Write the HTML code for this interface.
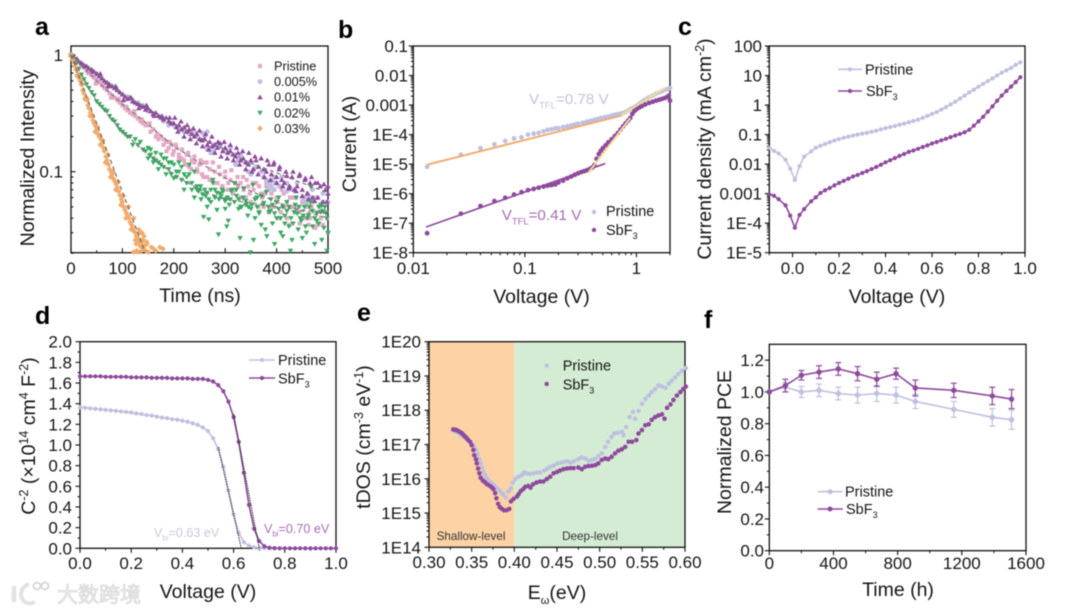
<!DOCTYPE html>
<html lang="en">
<head>
<meta charset="utf-8">
<title>Perovskite characterisation panels</title>
<style>
html,body{margin:0;padding:0;background:#fff;}
svg{display:block;filter:blur(0.45px);}
text{font-family:"Liberation Sans","Noto Sans CJK SC",sans-serif;fill:#151515;}
.tick{font-size:17px;}
.title{font-size:19.5px;}
.leg{font-size:14.5px;}
.letter{font-size:25px;font-weight:bold;fill:#000;}
</style>
</head>
<body>
<svg id="fig" xmlns="http://www.w3.org/2000/svg" width="1080" height="613" viewBox="0 0 1080 613">
  <rect x="0" y="0" width="1080" height="613" fill="#fff"/>
  <g id="pa">
    <text class="letter" x="35" y="35">a</text>
    <text class="title" x="200" y="302" text-anchor="middle">Time (ns)</text>
    <text class="title" transform="translate(34,158) rotate(-90)" text-anchor="middle">Normalized Intensity</text>
  </g>
  <g id="pb">
    <text class="letter" x="338" y="38">b</text>
    <text class="title" x="541.5" y="303" text-anchor="middle">Voltage (V)</text>
    <text class="title" transform="translate(356,144) rotate(-90)" text-anchor="middle">Current (A)</text>
  </g>
  <g id="pc">
    <text class="letter" x="678" y="35">c</text>
    <text class="title" x="897" y="303" text-anchor="middle">Voltage (V)</text>
    <text class="title" transform="translate(711,149) rotate(-90)" text-anchor="middle">Current density (mA cm<tspan font-size="12.5" dy="-7">-2</tspan><tspan dy="7">)</tspan></text>
  </g>
  <g id="pd">
    <text class="letter" x="35" y="324">d</text>
    <text class="title" x="208" y="598" text-anchor="middle">Voltage (V)</text>
    <text class="title" transform="translate(35,436) rotate(-90)" text-anchor="middle">C<tspan font-size="12.5" dy="-7">-2</tspan><tspan dy="7"> (×10</tspan><tspan font-size="12.5" dy="-7">14</tspan><tspan dy="7"> cm</tspan><tspan font-size="12.5" dy="-7">4</tspan><tspan dy="7"> F</tspan><tspan font-size="12.5" dy="-7">-2</tspan><tspan dy="7">)</tspan></text>
  </g>
  <g id="pe">
    <text class="letter" x="357" y="321">e</text>
    <text class="title" x="557" y="599" text-anchor="middle">E<tspan font-size="11" dy="5">ω</tspan><tspan dy="-5">(eV)</tspan></text>
    <text class="title" transform="translate(370,437) rotate(-90)" text-anchor="middle">tDOS (cm<tspan font-size="12.5" dy="-7">-3</tspan><tspan dy="7"> eV</tspan><tspan font-size="12.5" dy="-7">-1</tspan><tspan dy="7">)</tspan></text>
  </g>
  <g id="pf">
    <text class="letter" x="704" y="328">f</text>
    <text class="title" x="898" y="596" text-anchor="middle">Time (h)</text>
    <text class="title" transform="translate(731,442) rotate(-90)" text-anchor="middle">Normalized PCE</text>
  </g>
  <g id="watermark">
    <path d="M14 586 L14 602" fill="none" stroke="#e2e2e2" stroke-width="4.5"/>
    <path d="M29 584 C21 587 19 595 23 600 C26 604 31 604 35 602" fill="none" stroke="#e2e2e2" stroke-width="4"/>
    <circle cx="37" cy="586" r="3.5" fill="none" stroke="#d8d8d8" stroke-width="2"/>
    <circle cx="45" cy="586" r="3.5" fill="none" stroke="#d8d8d8" stroke-width="2"/>
    <text x="57" y="602" style="font-size:21px;fill:#f2f2f2;stroke:#d6d6d6;stroke-width:0.8px;font-family:'Liberation Sans','Noto Sans CJK SC',sans-serif;">大数跨境</text>
  </g>
</svg>
<script>
/* ---------- palette ---------- */
const PRISTINE_COLOR = '#bfc0df';
const SBF3_COLOR = '#8e4a9c';

/* ---------- panel a data ---------- */
const aXTickValues = [0,100,200,300,400,500];
const aXMinorValues = [50,150,250,350,450];
const aYTickValues = [1,0.1];
const aYTickLabels = ['1','0.1'];
const aYMinorValues = [0.9,0.8,0.7,0.6,0.5,0.4,0.3,0.2,0.09,0.08,0.07,0.06,0.05,0.04,0.03,0.02];
const aLegendLabels = ['Pristine','0.005%','0.01%','0.02%','0.03%'];

const aPristineTime = [0,5,10,15,20,25,30,35,40,45,50,55,60,65,70,75,80,85,90,95,100,105,110,115,120,125,130,135,140,145,150,155,160,165,170,175,180,185,190,195,200,205,210,215,220,225,230,235,240,245,250,255,260,265,270,275,280,285,290,295,300,305,310,315,320,325,330,335,340,345,350,355,360,365,370,375,380,385,390,395,400,405,410,415,420,425,430,435,440,445,450,455,460,465,470,475,480,485,490,495,500,
  33,48,63,78,93,108,123,138,153,168,180,186,192,198,204,210,216,222,228,234,240,246,252,258,264,270,276,282,288,294,300,306,312,318,324,330,336,342,348,354,360,366,372,378,384,390,396,402,408,414,420,426,432,438,444,450,456,462,468,474,480,486,492,498];
const aPristineIntensity = [1,.95,.91,.87,.82,.78,.74,.7,.67,.64,.61,.58,.55,.52,.5,.47,.45,.43,.41,.39,.37,.35,.335,.32,.31,.3,.285,.27,.26,.25,.25,.22,.23,.2,.19,.2,.17,.18,.16,.17,.15,.16,.14,.13,.125,.14,.11,.125,.12,.105,.115,.095,.12,.09,.105,.085,.1,.08,.095,.075,.09,.07,.085,.065,.08,.075,.06,.09,.06,.075,.055,.07,.08,.05,.065,.05,.075,.045,.065,.05,.06,.04,.07,.05,.055,.035,.06,.045,.05,.036,.055,.04,.05,.04,.055,.033,.045,.05,.035,.045,.03,
  .7,.57,.55,.43,.42,.36,.33,.28,.26,.21,.19,.15,.18,.14,.17,.13,.155,.115,.145,.105,.135,.1,.125,.09,.12,.085,.12,.08,.11,.075,.1,.08,.103,.07,.09,.08,.07,.085,.065,.08,.06,.075,.06,.065,.07,.05,.07,.055,.045,.065,.04,.06,.05,.06,.045,.04,.06,.035,.05,.06,.035,.04,.055,.04];

const a005Time = [0,10,20,30,40,50,60,70,80,90,100,110,120,130,140,150,160,170,180,190,200,210,220,230,240,250,255,260,265,270,280,290,300,310,320,330,340,350,360,370,375,380,385,390,395,400,405,410,420,430,440,450,455,460,470,480,490,500,
  380,383,386,389,392,395,398,455,458,461,464,467,345,350,355,265,272,278,320,325,420,425,490];
const a005Intensity = [1,.92,.85,.79,.74,.69,.63,.58,.54,.5,.46,.44,.41,.39,.37,.33,.31,.3,.27,.25,.25,.23,.22,.21,.22,.19,.215,.2,.22,.16,.17,.165,.15,.16,.14,.14,.12,.12,.11,.1,.09,.085,.08,.075,.09,.08,.075,.09,.08,.07,.08,.06,.055,.065,.07,.06,.065,.055,
  .08,.07,.078,.072,.084,.07,.08,.06,.054,.064,.056,.06,.1,.095,.105,.155,.145,.15,.115,.125,.068,.074,.055];

const a01Time = [0,5,10,15,20,25,30,35,40,45,50,55,60,65,70,75,80,85,90,95,100,105,110,115,120,125,130,135,140,145,150,155,160,165,170,175,180,185,190,195,200,205,210,215,220,225,230,235,240,245,250,255,260,265,270,275,280,285,290,295,300,305,310,315,320,325,330,335,340,345,350,355,360,365,370,375,380,385,390,395,400,405,410,415,420,425,430,435,440,445,450,455,460,465,470,475,480,485,490,495,500,
  12,27,42,57,72,87,102,117,132,147,162,177,192,202,208,214,220,226,232,238,244,250,256,262,268,274,280,286,292,298,304,310,316,322,328,334,340,346,352,358,364,370,376,382,388,394,400,406,412,418,424,432,438,444,450,456,462,468,474,480,486,492,498,500];
const a01Intensity = [1,.96,.92,.88,.85,.82,.8,.77,.75,.72,.69,.66,.63,.6,.58,.56,.54,.52,.5,.48,.46,.44,.42,.43,.4,.39,.38,.37,.36,.34,.35,.33,.31,.32,.3,.29,.28,.29,.27,.26,.26,.24,.25,.23,.24,.22,.23,.21,.2,.21,.19,.185,.19,.17,.18,.165,.17,.16,.175,.15,.16,.145,.15,.14,.135,.145,.125,.13,.12,.115,.125,.105,.125,.11,.13,.105,.1,.115,.095,.12,.09,.105,.085,.08,.092,.075,.09,.07,.075,.095,.07,.085,.065,.08,.06,.08,.06,.075,.055,.07,.065,
  .92,.8,.72,.69,.54,.54,.41,.43,.35,.37,.3,.3,.29,.29,.22,.27,.2,.25,.19,.235,.175,.225,.165,.21,.155,.2,.145,.18,.135,.18,.13,.17,.125,.16,.115,.15,.105,.145,.1,.135,.095,.13,.09,.125,.085,.115,.08,.11,.075,.1,.072,.1,.068,.092,.062,.088,.058,.09,.056,.08,.052,.078,.055,.075];

const a02Time = [0,5,10,15,20,25,30,35,40,45,50,55,60,65,70,75,80,85,90,95,100,105,110,115,120,125,130,135,140,145,150,155,160,165,170,175,180,185,190,195,200,205,210,215,220,225,230,235,240,245,250,253,258,262,265,268,272,276,280,284,287,290,294,298,300,303,306,310,313,318,322,326,329,332,336,340,344,349,352,355,358,362,366,370,374,378,381,385,389,392,396,400,404,408,412,416,420,424,427,430,434,438,442,446,450,454,458,462,466,470,474,478,482,486,488,492,496,498,500,
  150,155,160,165,170,175,180,185,190,195,200,205,210,215,220,225,230,235,240,245,248,252,256,260,264,268,272,276,280,284,288,292,296,300,304,308,312,318,322,326,330,335,340,345,350,354,358,362,366,370,375,380,384,388,392,396,400,404,408,412,416,420,424,428,432,436,440,444,448,452,456,460,464,467,470,474,478,482,486,490,494,498];
const a02Intensity = [1,.92,.84,.76,.68,.62,.56,.52,.48,.45,.4,.38,.36,.34,.33,.3,.28,.27,.25,.23,.22,.21,.2,.2,.17,.19,.17,.18,.155,.15,.16,.14,.13,.125,.12,.14,.11,.13,.12,.095,.115,.1,.12,.085,.07,.09,.115,.08,.1,.075,.07,.058,.041,.062,.05,.039,.055,.08,.06,.047,.029,.065,.07,.058,.048,.034,.038,.058,.07,.055,.062,.048,.027,.05,.072,.056,.042,.0203,.052,.026,.04,.06,.045,.035,.052,.032,.028,.045,.058,.036,.024,.04,.06,.03,.028,.042,.055,.034,.021,.026,.045,.06,.032,.04,.027,.05,.03,.042,.055,.034,.024,.038,.05,.045,.026,.033,.044,.021,.03,
  .13,.155,.12,.145,.105,.115,.13,.095,.105,.12,.088,.09,.1,.11,.095,.08,.095,.07,.06,.07,.068,.075,.064,.07,.066,.058,.07,.085,.07,.066,.058,.062,.068,.056,.06,.052,.068,.08,.07,.058,.05,.06,.052,.05,.048,.077,.058,.05,.044,.062,.054,.067,.05,.046,.052,.044,.055,.048,.04,.05,.036,.046,.05,.04,.036,.052,.044,.05,.038,.042,.034,.04,.05,.074,.046,.04,.044,.036,.052,.046,.05,.04];

const a03Time = [0,3,5,8,10,13,15,18,20,23,25,28,30,33,35,38,40,43,45,48,50,53,55,58,60,63,65,68,70,73,75,78,80,83,85,88,90,93,95,98,100,103,105,108,110,113,115,118,120,122,125,125,127,130,132,135,135,137,140,140,143,145,148,150,156,160,165,173,179,122,130,128,
  12,17,22,27,32,37,42,47,52,57,62,67,72,77,82,87,92,97,102,107,112,117,122,127,132,137,142,147,134,138];
const a03Intensity = [1,.92,.88,.8,.75,.69,.65,.6,.56,.5,.47,.43,.41,.37,.35,.32,.3,.275,.26,.245,.23,.21,.2,.19,.175,.16,.15,.135,.125,.115,.105,.1,.095,.087,.083,.078,.073,.068,.063,.058,.055,.05,.047,.044,.042,.04,.037,.035,.033,.031,.03,.026,.028,.027,.025,.026,.023,.024,.0225,.026,.023,.021,.024,.0205,.0225,.022,.021,.0225,.0218,.0205,.0205,.021,
  .66,.63,.56,.42,.42,.3,.3,.22,.24,.17,.185,.12,.14,.09,.1,.07,.082,.052,.062,.04,.05,.032,.04,.024,.032,.021,.028,.025,.03,.03];

const aFitTime = [0,50,100,150,200,250,300,350,400,450,500];
const aFitPristine = [1,.6,.38,.255,.165,.12,.088,.068,.055,.046,.04];
const aFit01 = [1,.69,.46,.345,.26,.195,.155,.118,.098,.08,.066];
const aFit02 = [1,.4,.22,.14,.095,.07,.058,.054,.05,.047,.044];
const aFit03Time = [0,144];
const aFit03 = [1,.0205];

/* ---------- panel b data ---------- */
const bXTickValues = [0.01,0.1,1];
const bXTickLabels = ['0.01','0.1','1'];
const bYTickValues = [-1,-2,-3,-4,-5,-6,-7,-8];
const bYTickLabels = ['0.1','0.01','0.001','1E-4','1E-5','1E-6','1E-7','1E-8'];
const bPristineVoltage = [.0133,.0267,.04,.0533,.0667,.08,.0933,.1067,.12,.133,.147,.16,.173,.187,.2,.22,.24,.26,.28,.3,.33,.36,.39,.42,.45,.48,.52,.56,.6,.64,.68,.72,.76,.8,.85,.9,.95,1,1.06,1.12,1.18,1.24,1.3,1.4,1.5,1.6,1.7,1.8,1.9,2];
const bPristineLogCurrent = [-5.09,-4.68,-4.46,-4.33,-4.22,-4.13,-4.09,-4,-3.97,-3.94,-3.89,-3.84,-3.82,-3.79,-3.78,-3.75,-3.72,-3.69,-3.66,-3.63,-3.6,-3.56,-3.53,-3.5,-3.47,-3.44,-3.41,-3.39,-3.36,-3.33,-3.31,-3.29,-3.27,-3.24,-3.18,-3.12,-3.08,-3.03,-2.96,-2.89,-2.83,-2.79,-2.74,-2.68,-2.62,-2.57,-2.53,-2.48,-2.46,-2.43];
const bSbf3Voltage = [.0133,.0267,.04,.0533,.0667,.08,.0933,.1067,.12,.133,.147,.16,.173,.187,.2,.22,.24,.26,.28,.3,.32,.34,.36,.38,.4,.42,.44,.46,.48,.5,.53,.56,.6,.64,.68,.72,.76,.8,.84,.88,.92,.96,1,1.06,1.12,1.2,1.3,1.4,1.5,1.6,1.7,1.8,1.9,1.95,2];
const bSbf3LogCurrent = [-7.34,-6.68,-6.42,-6.25,-6.14,-6.03,-5.95,-5.88,-5.84,-5.8,-5.76,-5.73,-5.71,-5.69,-5.62,-5.56,-5.48,-5.42,-5.36,-5.31,-5.27,-5.24,-5.21,-5.17,-5.12,-5.03,-4.82,-4.66,-4.55,-4.46,-4.36,-4.26,-4.16,-4.05,-3.95,-3.83,-3.72,-3.62,-3.53,-3.44,-3.3,-3.2,-3.14,-3.08,-3.04,-2.98,-2.93,-2.89,-2.85,-2.82,-2.79,-2.76,-2.72,-2.68,-2.85];
const bFitOrangeV = [.0133,.75];
const bFitOrangeLogI = [-5.02,-3.35];
const bFitYellowUpperV = [.73,1.85];
const bFitYellowUpperLogI = [-3.35,-2.39];
const bFitPurpleV = [.013,.525];
const bFitPurpleLogI = [-7.13,-4.98];
const bFitYellowLowerV = [.37,.88];
const bFitYellowLowerLogI = [-5.3,-3.44];

/* ---------- panel c data ---------- */
const cXTickValues = [0,.2,.4,.6,.8,1];
const cXTickLabels = ['0.0','0.2','0.4','0.6','0.8','1.0'];
const cXMinorValues = [-.1,.1,.3,.5,.7,.9];
const cYTickValues = [2,1,0,-1,-2,-3,-4,-5];
const cYTickLabels = ['100','10','1','0.1','0.01','0.001','1E-4','1E-5'];
const cVoltage = [-.1,-.08,-.06,-.03,-.01,.01,.03,.05,.08,.1,.12,.14,.16,.18,.2,.22,.24,.26,.28,.3,.32,.34,.36,.38,.4,.42,.44,.46,.48,.5,.52,.54,.56,.58,.6,.62,.64,.66,.68,.7,.72,.74,.76,.78,.8,.82,.84,.86,.88,.9,.92,.94,.96,.98];
const cPristine = [.035,.028,.023,.014,.007,.0029,.0085,.018,.027,.036,.042,.048,.055,.063,.07,.078,.085,.092,.1,.108,.115,.125,.135,.15,.165,.18,.195,.215,.235,.26,.29,.32,.37,.43,.5,.58,.7,.85,1.05,1.3,1.65,2.1,2.7,3.3,4.2,5.2,6.5,8,10,12.5,15,18,23,28];
const cSbf3 = [.00095,.00085,.00065,.0004,.00018,.00007,.00019,.0003,.00055,.00075,.00105,.0013,.00155,.0019,.0023,.0027,.0032,.0038,.0043,.005,.0058,.0068,.008,.0095,.0115,.0135,.016,.019,.022,.026,.029,.033,.038,.043,.05,.056,.064,.072,.082,.093,.105,.12,.145,.2,.28,.4,.6,.9,1.4,2.1,3,4.2,6,8.8];

/* ---------- panel d data ---------- */
const dXTickValues = [0,.2,.4,.6,.8,1];
const dXTickLabels = ['0.0','0.2','0.4','0.6','0.8','1.0'];
const dXMinorValues = [.1,.3,.5,.7,.9];
const dYTickValues = [0,.2,.4,.6,.8,1,1.2,1.4,1.6,1.8,2];
const dYTickLabels = ['0.0','0.2','0.4','0.6','0.8','1.0','1.2','1.4','1.6','1.8','2.0'];
const dYMinorValues = [.1,.3,.5,.7,.9,1.1,1.3,1.5,1.7,1.9];
const dVoltage = [0,.02,.04,.06,.08,.1,.12,.14,.16,.18,.2,.22,.24,.26,.28,.3,.32,.34,.36,.38,.4,.42,.44,.46,.48,.5,.52,.54,.56,.58,.6,.62,.64,.66,.68,.7,.72,.74,.76,.78,.8,.82,.84,.86,.88,.9,.92,.94,.96,.98,1];
const dPristine = [1.365,1.36,1.355,1.35,1.345,1.34,1.335,1.33,1.325,1.32,1.315,1.305,1.3,1.29,1.285,1.275,1.265,1.26,1.25,1.245,1.235,1.225,1.21,1.195,1.17,1.135,1.065,.96,.79,.56,.33,.15,.06,.025,.01,.005,.002,0,0,0,0,0,0,0,0,0,0,0,0,0,0];
const dSbf3 = [1.665,1.665,1.665,1.665,1.665,1.66,1.66,1.66,1.66,1.66,1.655,1.655,1.655,1.655,1.65,1.65,1.65,1.65,1.645,1.645,1.645,1.645,1.64,1.64,1.64,1.63,1.615,1.58,1.52,1.42,1.27,1.03,.73,.42,.19,.07,.02,.005,.002,0,0,0,0,0,0,0,0,0,0,0,0];
const dFitPristineV = [.54,.63];
const dFitPristineC = [.98,0];
const dFitSbf3V = [.6,.7];
const dFitSbf3C = [1.3,0];

/* ---------- panel e data ---------- */
const eXTickValues = [.3,.35,.4,.45,.5,.55,.6];
const eXTickLabels = ['0.30','0.35','0.40','0.45','0.50','0.55','0.60'];
const eXMinorValues = [.325,.375,.425,.475,.525,.575];
const eYTickValues = [20,19,18,17,16,15,14];
const eYTickLabels = ['1E20','1E19','1E18','1E17','1E16','1E15','1E14'];
const eRegionBoundary = [.3,.4,.6];
const ePristineEnergy = [.3278,.3305,.3332,.3364,.3395,.3422,.345,.348,.351,.353,.355,.357,.359,.3606,.362,.3637,.3657,.3676,.37,.3723,.3747,.3774,.38,.3825,.385,.387,.39,.393,.396,.398,.401,.405,.409,.4115,.4145,.4185,.4225,.4265,.43,.435,.439,.4425,.4465,.4505,.4545,.4585,.462,.466,.47,.475,.479,.483,.487,.491,.4945,.4985,.5025,.5065,.51,.514,.517,.521,.526,.528,.531,.535,.539,.5415,.5455,.5495,.5535,.5575,.561,.565,.569,.573,.577,.581,.5845,.5885,.5925,.5965,.601];
const ePristineLogDos = [17.42,17.39,17.35,17.3,17.24,17.19,17.13,17.08,17.01,16.93,16.84,16.71,16.57,16.45,16.32,16.21,16.11,16.01,15.95,15.89,15.84,15.79,15.72,15.66,15.6,15.54,15.46,15.63,15.72,15.89,15.99,16.06,16.11,16.18,16.16,16.14,16.16,16.18,16.18,16.24,16.3,16.35,16.39,16.45,16.47,16.49,16.51,16.47,16.51,16.57,16.62,16.59,16.53,16.55,16.58,16.66,16.74,16.93,17.08,17.22,17.32,17.34,17.37,17.27,17.51,17.8,17.95,17.75,17.98,18.19,18.33,18.43,18.53,18.62,18.72,18.69,18.65,18.77,18.86,18.96,19.06,19.15,19.23];
const eSbf3Energy = [.3285,.3305,.3325,.3345,.3365,.3385,.34,.342,.344,.346,.348,.35,.352,.353,.355,.356,.3575,.359,.3605,.363,.3655,.368,.371,.3735,.3755,.3775,.379,.381,.383,.3855,.388,.391,.394,.396,.399,.403,.405,.4075,.4105,.413,.4165,.419,.422,.426,.43,.434,.438,.442,.446,.45,.4535,.4575,.4615,.4655,.4695,.475,.479,.483,.487,.491,.495,.4985,.5025,.5065,.51,.514,.518,.522,.526,.53,.534,.538,.543,.5455,.5495,.5535,.5575,.561,.565,.569,.573,.576,.579,.583,.5865,.5905,.5945,.598,.601];
const eSbf3LogDos = [17.44,17.43,17.42,17.39,17.36,17.33,17.29,17.24,17.19,17.13,17.08,16.98,16.84,16.69,16.57,16.45,16.3,16.16,16.03,15.95,15.9,15.84,15.8,15.75,15.7,15.58,15.43,15.27,15.17,15.12,15.08,15.08,15.12,15.34,15.41,15.48,15.55,15.64,15.7,15.77,15.79,15.74,15.84,15.89,15.92,15.92,15.99,16.06,16.16,16.2,16.24,16.28,16.3,16.31,16.31,16.33,16.28,16.35,16.37,16.38,16.4,16.45,16.55,16.59,16.57,16.64,16.74,16.82,16.86,16.93,17.08,17.08,17.13,17.32,17.42,17.56,17.59,17.72,17.8,17.85,17.88,17.75,18.07,18.17,18.3,18.43,18.53,18.62,18.69];

/* ---------- panel f data ---------- */
const fXTickValues = [0,400,800,1200,1600];
const fXMinorValues = [200,600,1000,1400];
const fYTickValues = [0,.2,.4,.6,.8,1,1.2];
const fYTickLabels = ['0.0','0.2','0.4','0.6','0.8','1.0','1.2'];
const fYMinorValues = [.1,.3,.5,.7,.9,1.1];
const fHours = [0,100,200,310,430,550,670,790,910,1150,1390,1510];
const fPristine = [1,1.03,1.0,1.01,.99,.98,.99,.98,.94,.89,.84,.825];
const fPristineError = [0,.03,.035,.04,.04,.05,.05,.05,.045,.05,.055,.06];
const fSbf3 = [1,1.04,1.105,1.125,1.145,1.115,1.08,1.115,1.025,1.01,.975,.955];
const fSbf3Error = [0,.04,.03,.04,.04,.045,.045,.035,.05,.045,.055,.06];

/* ---------- helpers ---------- */
const NS = 'http://www.w3.org/2000/svg';
function make(tag, parent, name, props) {
  const el = document.createElementNS(NS, tag);
  for (const k in props) el.setAttribute(k, props[k]);
  
  
  parent.appendChild(el);
  return el;
}
function linScale(d0, d1, r0, r1) { return v => r0 + (v - d0) / (d1 - d0) * (r1 - r0); }
function logScale(d0, d1, r0, r1) { const f = linScale(Math.log10(d0), Math.log10(d1), r0, r1); return v => f(Math.log10(v)); }

function frame(g, name, box) {
  make('rect', g, name + '-frame', {x: box.l, y: box.t, width: box.r - box.l, height: box.b - box.t, fill: 'none', stroke: '#111', 'stroke-width': 1.3});
}
function xAxis(g, name, box, sx, values, labels, minor, labelY, inward) {
  const dir = inward ? -1 : 1;
  values.forEach((v, i) => {
    const x = sx(v);
    make('line', g, name + '-x-tick', {x1: x, x2: x, y1: box.b, y2: box.b + dir * 4.5, stroke: '#111', 'stroke-width': 1.1});
    const t = make('text', g, name + '-x-tick-label', {x: x, y: labelY, 'text-anchor': 'middle', class: 'tick'});
    t.textContent = labels[i];
  });
  minor.forEach(v => {
    const x = sx(v);
    make('line', g, name + '-x-minor-tick', {x1: x, x2: x, y1: box.b, y2: box.b + dir * 2.5, stroke: '#111', 'stroke-width': 1});
  });
}
function yAxis(g, name, box, sy, values, labels, minor, labelX, inward) {
  const dir = inward ? 1 : -1;
  values.forEach((v, i) => {
    const y = sy(v);
    make('line', g, name + '-y-tick', {x1: box.l, x2: box.l + dir * 4.5, y1: y, y2: y, stroke: '#111', 'stroke-width': 1.1});
    const t = make('text', g, name + '-y-tick-label', {x: labelX, y: y + 6, 'text-anchor': 'end', class: 'tick'});
    t.textContent = labels[i];
  });
  minor.forEach(v => {
    const y = sy(v);
    make('line', g, name + '-y-minor-tick', {x1: box.l, x2: box.l + dir * 2.5, y1: y, y2: y, stroke: '#111', 'stroke-width': 1});
  });
}
function logMinors(exponents) {
  const out = [];
  const mult = [2,3,4,5,6,7,8,9];
  exponents.forEach(e => mult.forEach(m => out.push(e + Math.log10(m))));
  return out;
}
function marker(g, name, shape, x, y, size, color) {
  const s = size;
  if (shape === 'circle') return make('circle', g, name, {cx: x, cy: y, r: s, fill: color});
  if (shape === 'square') return make('rect', g, name, {x: x - s, y: y - s, width: 2 * s, height: 2 * s, fill: color});
  let pts;
  if (shape === 'up') pts = [[x, y - s * 1.15], [x + s * 1.15, y + s * .85], [x - s * 1.15, y + s * .85]];
  if (shape === 'down') pts = [[x, y + s * 1.15], [x + s * 1.15, y - s * .85], [x - s * 1.15, y - s * .85]];
  if (shape === 'diamond') pts = [[x, y - s * 1.3], [x + s * 1.3, y], [x, y + s * 1.3], [x - s * 1.3, y]];
  return make('polygon', g, name, {points: pts.map(p => p.join(',')).join(' '), fill: color});
}
function poly(g, name, xs, ys, color, width, dash) {
  const pts = xs.map((x, i) => x.toFixed(2) + ',' + ys[i].toFixed(2)).join(' ');
  const props = {points: pts, fill: 'none', stroke: color, 'stroke-width': width, 'stroke-linejoin': 'round'};
  if (dash) props['stroke-dasharray'] = dash;
  return make('polyline', g, name, props);
}
function legendText(g, name, x, y, parts, cls, size, color) {
  const t = make('text', g, name, {x: x, y: y, class: cls || 'leg'});
  if (size) t.style.fontSize = size + 'px';
  if (color) t.style.fill = color;
  parts.forEach(p => {
    const sp = document.createElementNS(NS, 'tspan');
    sp.textContent = p;
    t.appendChild(sp);
  });
  return t;
}
function subText(g, name, x, y, base, sub, rest, size, color) {
  const t = make('text', g, name, {x: x, y: y});
  t.style.fontSize = size + 'px';
  if (color) t.style.fill = color;
  const a = document.createElementNS(NS, 'tspan');
  a.textContent = base;
  t.appendChild(a);
  const b = document.createElementNS(NS, 'tspan');
  b.textContent = sub;
  b.setAttribute('dy', size * .28);
  b.setAttribute('font-size', size * .62);
  t.appendChild(b);
  const c = document.createElementNS(NS, 'tspan');
  c.textContent = rest;
  c.setAttribute('dy', -size * .28);
  t.appendChild(c);
  return t;
}

/* ---------- panel a ---------- */
(function () {
  const g = document.getElementById('pa');
  const box = {l: 71, r: 328, t: 46, b: 252.7};
  const sx = linScale(0, 500, box.l, box.r);
  const sy = logScale(1, 0.1, 55, 171.7);
  frame(g, 'panel-a', box);
  xAxis(g, 'panel-a', box, sx, aXTickValues, aXTickValues.map(String), aXMinorValues, 274, true);
  yAxis(g, 'panel-a', box, sy, aYTickValues, aYTickLabels, aYMinorValues, 63, true);
  const series = [
    {name: 'pristine', t: aPristineTime, v: aPristineIntensity, shape: 'square', color: '#e4a8c6', size: 2.1},
    {name: '0-005', t: a005Time, v: a005Intensity, shape: 'circle', color: '#bfc0df', size: 2.5},
    {name: '0-01', t: a01Time, v: a01Intensity, shape: 'up', color: '#8e4a9c', size: 2.4},
    {name: '0-02', t: a02Time, v: a02Intensity, shape: 'down', color: '#3aa862', size: 2.4},
    {name: '0-03', t: a03Time, v: a03Intensity, shape: 'diamond', color: '#f1ab6c', size: 2.2}
  ];
  series.forEach(s => s.t.forEach((t, i) => {
    marker(g, 'panel-a-point-' + s.name, s.shape, sx(t), sy(s.v[i]), s.size, s.color);
  }));
  poly(g, 'panel-a-fit-pristine', aFitTime.map(sx), aFitPristine.map(sy), '#777', 1.2, '4 3');
  poly(g, 'panel-a-fit-0-01', aFitTime.map(sx), aFit01.map(sy), '#777', 1.2, '4 3');
  poly(g, 'panel-a-fit-0-02', aFitTime.map(sx), aFit02.map(sy), '#777', 1.2, '4 3');
  poly(g, 'panel-a-fit-0-03', aFit03Time.map(sx), aFit03.map(sy), '#6a6a6a', 1.2, '4 3');
  aLegendLabels.forEach((label, i) => {
    const y = 66 + i * 15.6;
    marker(g, 'panel-a-legend-marker', series[i].shape, 260, y, series[i].size, series[i].color);
    legendText(g, 'panel-a-legend-label', 274, y + 4.5, [label], 'leg', 12.7);
  });
})();

/* ---------- panel b ---------- */
(function () {
  const g = document.getElementById('pb');
  const box = {l: 413.3, r: 670, t: 46, b: 252.7};
  const sx = logScale(0.01, 2, 413.3, 670);
  const sy = linScale(-1, -8, 46, 252.7);
  frame(g, 'panel-b', box);
  const xMinor = logMinors([-2,-1]).map(e => Math.pow(10, e)).concat([2]);
  xAxis(g, 'panel-b', box, sx, bXTickValues, bXTickLabels, xMinor, 274, false);
  yAxis(g, 'panel-b', box, sy, bYTickValues, bYTickLabels, logMinors([-2,-3,-4,-5,-6,-7,-8]), 408, false);
  bPristineVoltage.forEach((v, i) => {
    make('circle', g, 'panel-b-point-pristine', {cx: sx(v), cy: sy(bPristineLogCurrent[i]), r: 2.4, fill: PRISTINE_COLOR});
  });
  bSbf3Voltage.forEach((v, i) => {
    make('circle', g, 'panel-b-point-sbf3', {cx: sx(v), cy: sy(bSbf3LogCurrent[i]), r: 2.4, fill: SBF3_COLOR});
  });
  poly(g, 'panel-b-fit-pristine-low', bFitOrangeV.map(sx), bFitOrangeLogI.map(sy), '#f2a96c', 1.9);
  poly(g, 'panel-b-fit-pristine-high', bFitYellowUpperV.map(sx), bFitYellowUpperLogI.map(sy), '#f5dd93', 1.9);
  poly(g, 'panel-b-fit-sbf3-low', bFitPurpleV.map(sx), bFitPurpleLogI.map(sy), SBF3_COLOR, 1.7);
  poly(g, 'panel-b-fit-sbf3-high', bFitYellowLowerV.map(sx), bFitYellowLowerLogI.map(sy), '#f5dd93', 1.9);
  subText(g, 'panel-b-vtfl-pristine', 529, 104, 'V', 'TFL', '=0.78 V', 15.2, '#c3c4de');
  subText(g, 'panel-b-vtfl-sbf3', 501.7, 220, 'V', 'TFL', '=0.41 V', 15.2, '#a86bb5');
  make('circle', g, 'panel-b-legend-marker-pristine', {cx: 594, cy: 212, r: 2.2, fill: PRISTINE_COLOR});
  make('circle', g, 'panel-b-legend-marker-sbf3', {cx: 594, cy: 230, r: 2.2, fill: SBF3_COLOR});
  legendText(g, 'panel-b-legend-pristine', 606, 216, ['Pristine']);
  subText(g, 'panel-b-legend-sbf3', 606, 235, 'SbF', '3', '', 14.5);
})();

/* ---------- panel c ---------- */
(function () {
  const g = document.getElementById('pc');
  const box = {l: 769.3, r: 1025, t: 46, b: 252.7};
  const sx = linScale(-0.1, 1.0, box.l, box.r);
  const sy = linScale(2, -5, box.t, box.b);
  const logY = v => sy(Math.log10(v));
  frame(g, 'panel-c', box);
  xAxis(g, 'panel-c', box, sx, cXTickValues, cXTickLabels, cXMinorValues, 274, false);
  yAxis(g, 'panel-c', box, sy, cYTickValues, cYTickLabels, logMinors([1,0,-1,-2,-3,-4,-5]), 762, false);
  poly(g, 'panel-c-line-pristine', cVoltage.map(sx), cPristine.map(logY), PRISTINE_COLOR, 1.6);
  poly(g, 'panel-c-line-sbf3', cVoltage.map(sx), cSbf3.map(logY), SBF3_COLOR, 1.6);
  cVoltage.forEach((v, i) => {
    make('circle', g, 'panel-c-point-pristine', {cx: sx(v), cy: logY(cPristine[i]), r: 2.1, fill: PRISTINE_COLOR});
    make('circle', g, 'panel-c-point-sbf3', {cx: sx(v), cy: logY(cSbf3[i]), r: 2.1, fill: SBF3_COLOR});
  });
  make('line', g, 'panel-c-legend-line-pristine', {x1: 838, x2: 862, y1: 69.3, y2: 69.3, stroke: PRISTINE_COLOR, 'stroke-width': 1.6});
  make('circle', g, 'panel-c-legend-marker-pristine', {cx: 850, cy: 69.3, r: 2.1, fill: PRISTINE_COLOR});
  make('line', g, 'panel-c-legend-line-sbf3', {x1: 838, x2: 862, y1: 91, y2: 91, stroke: SBF3_COLOR, 'stroke-width': 1.6});
  make('circle', g, 'panel-c-legend-marker-sbf3', {cx: 850, cy: 91, r: 2.1, fill: SBF3_COLOR});
  legendText(g, 'panel-c-legend-pristine', 865, 74.5, ['Pristine']);
  subText(g, 'panel-c-legend-sbf3', 866, 96, 'SbF', '3', '', 14.5);
})();

/* ---------- panel d ---------- */
(function () {
  const g = document.getElementById('pd');
  const box = {l: 80, r: 336, t: 341.7, b: 548.3};
  const sx = linScale(0, 1, box.l, box.r);
  const sy = linScale(0, 2, box.b, box.t);
  frame(g, 'panel-d', box);
  xAxis(g, 'panel-d', box, sx, dXTickValues, dXTickLabels, dXMinorValues, 569, false);
  yAxis(g, 'panel-d', box, sy, dYTickValues, dYTickLabels, dYMinorValues, 72, false);
  poly(g, 'panel-d-line-pristine', dVoltage.map(sx), dPristine.map(sy), PRISTINE_COLOR, 1.6);
  poly(g, 'panel-d-line-sbf3', dVoltage.map(sx), dSbf3.map(sy), SBF3_COLOR, 1.6);
  dVoltage.forEach((v, i) => {
    make('circle', g, 'panel-d-point-pristine', {cx: sx(v), cy: sy(dPristine[i]), r: 2.1, fill: PRISTINE_COLOR});
  });
  dVoltage.forEach((v, i) => {
    make('circle', g, 'panel-d-point-sbf3', {cx: sx(v), cy: sy(dSbf3[i]), r: 2.1, fill: SBF3_COLOR});
  });
  poly(g, 'panel-d-fit-pristine', dFitPristineV.map(sx), dFitPristineC.map(sy), '#222', 1, '1.5 1');
  poly(g, 'panel-d-fit-sbf3', dFitSbf3V.map(sx), dFitSbf3C.map(sy), '#222', 1, '1.5 1');
  subText(g, 'panel-d-vbi-pristine', 154, 537, 'V', 'bi', '=0.63 eV', 12.6, '#c8c9e1');
  subText(g, 'panel-d-vbi-sbf3', 264, 533, 'V', 'bi', '=0.70 eV', 12.6, '#a86bb5');
  make('line', g, 'panel-d-legend-line-pristine', {x1: 249, x2: 275, y1: 360, y2: 360, stroke: PRISTINE_COLOR, 'stroke-width': 1.6});
  make('circle', g, 'panel-d-legend-marker-pristine', {cx: 262, cy: 360, r: 2.1, fill: PRISTINE_COLOR});
  make('line', g, 'panel-d-legend-line-sbf3', {x1: 249, x2: 275, y1: 378, y2: 378, stroke: SBF3_COLOR, 'stroke-width': 1.6});
  make('circle', g, 'panel-d-legend-marker-sbf3', {cx: 262, cy: 378, r: 2.1, fill: SBF3_COLOR});
  legendText(g, 'panel-d-legend-pristine', 278, 365, ['Pristine']);
  subText(g, 'panel-d-legend-sbf3', 278, 383.5, 'SbF', '3', '', 14.5);
})();

/* ---------- panel e ---------- */
(function () {
  const g = document.getElementById('pe');
  const box = {l: 429, r: 685, t: 341.7, b: 547.3};
  const sx = linScale(0.3, 0.6, box.l, box.r);
  const sy = linScale(20, 14, box.t, box.b);
  make('rect', g, 'panel-e-shallow-region', {x: sx(eRegionBoundary[0]), y: box.t, width: sx(eRegionBoundary[1]) - sx(eRegionBoundary[0]), height: box.b - box.t, fill: '#fdd3a6'});
  make('rect', g, 'panel-e-deep-region', {x: sx(eRegionBoundary[1]), y: box.t, width: sx(eRegionBoundary[2]) - sx(eRegionBoundary[1]), height: box.b - box.t, fill: '#d5ecd4'});
  frame(g, 'panel-e', box);
  xAxis(g, 'panel-e', box, sx, eXTickValues, eXTickLabels, eXMinorValues, 568, false);
  yAxis(g, 'panel-e', box, sy, eYTickValues, eYTickLabels, logMinors([19,18,17,16,15,14]), 421, false);
  const shallow = legendText(g, 'panel-e-shallow-label', 471, 540, ['Shallow-level'], 'leg', 11.7, '#333');
  shallow.setAttribute('text-anchor', 'middle');
  const deep = legendText(g, 'panel-e-deep-label', 590, 540, ['Deep-level'], 'leg', 11.7, '#333');
  deep.setAttribute('text-anchor', 'middle');
  ePristineEnergy.forEach((v, i) => {
    make('circle', g, 'panel-e-point-pristine', {cx: sx(v), cy: sy(ePristineLogDos[i]), r: 2.3, fill: PRISTINE_COLOR});
  });
  eSbf3Energy.forEach((v, i) => {
    make('circle', g, 'panel-e-point-sbf3', {cx: sx(v), cy: sy(eSbf3LogDos[i]), r: 2.3, fill: SBF3_COLOR});
  });
  make('circle', g, 'panel-e-legend-marker-pristine', {cx: 546.7, cy: 365.7, r: 2.2, fill: PRISTINE_COLOR});
  make('circle', g, 'panel-e-legend-marker-sbf3', {cx: 546.7, cy: 384, r: 2.2, fill: SBF3_COLOR});
  legendText(g, 'panel-e-legend-pristine', 562.7, 370.5, ['Pristine']);
  subText(g, 'panel-e-legend-sbf3', 562.7, 389.5, 'SbF', '3', '', 14.5);
})();

/* ---------- panel f ---------- */
(function () {
  const g = document.getElementById('pf');
  const box = {l: 769.3, r: 1026, t: 344.3, b: 550.7};
  const sx = linScale(0, 1600, box.l, box.r);
  const sy = linScale(0, 1.3, box.b, box.t);
  frame(g, 'panel-f', box);
  xAxis(g, 'panel-f', box, sx, fXTickValues, fXTickValues.map(String), fXMinorValues, 569, false);
  yAxis(g, 'panel-f', box, sy, fYTickValues, fYTickLabels, fYMinorValues, 764, false);
  function drawSeries(values, errors, color, name) {
    poly(g, 'panel-f-line-' + name, fHours.map(sx), values.map(sy), color, 1.6);
    fHours.forEach((h, i) => {
      const x = sx(h), hi = sy(values[i] + errors[i]), lo = sy(values[i] - errors[i]);
      if (errors[i] > 0) {
        make('line', g, 'panel-f-error-bar-' + name, {x1: x, x2: x, y1: hi, y2: lo, stroke: color, 'stroke-width': 1.2});
        make('line', g, 'panel-f-error-cap-' + name, {x1: x - 3, x2: x + 3, y1: hi, y2: hi, stroke: color, 'stroke-width': 1.2});
        make('line', g, 'panel-f-error-cap-' + name, {x1: x - 3, x2: x + 3, y1: lo, y2: lo, stroke: color, 'stroke-width': 1.2});
      }
      make('circle', g, 'panel-f-point-' + name, {cx: x, cy: sy(values[i]), r: 2.7, fill: color});
    });
  }
  drawSeries(fPristine, fPristineError, PRISTINE_COLOR, 'pristine');
  drawSeries(fSbf3, fSbf3Error, SBF3_COLOR, 'sbf3');
  make('line', g, 'panel-f-legend-line-pristine', {x1: 817.7, x2: 842.7, y1: 491.7, y2: 491.7, stroke: PRISTINE_COLOR, 'stroke-width': 1.6});
  make('circle', g, 'panel-f-legend-marker-pristine', {cx: 830, cy: 491.7, r: 2.5, fill: PRISTINE_COLOR});
  make('line', g, 'panel-f-legend-line-sbf3', {x1: 817.7, x2: 842.7, y1: 509, y2: 509, stroke: SBF3_COLOR, 'stroke-width': 1.6});
  make('circle', g, 'panel-f-legend-marker-sbf3', {cx: 830, cy: 509, r: 2.5, fill: SBF3_COLOR});
  legendText(g, 'panel-f-legend-pristine', 845, 496.5, ['Pristine']);
  subText(g, 'panel-f-legend-sbf3', 846, 514, 'SbF', '3', '', 14.5);
})();
</script>
</body>
</html>
